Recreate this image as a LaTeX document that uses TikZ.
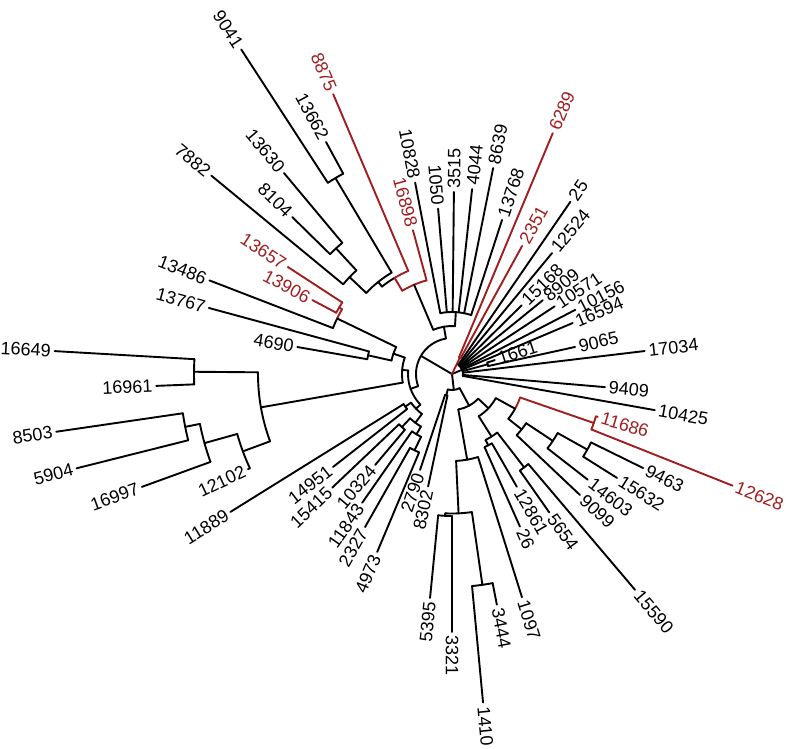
\documentclass[tikz,border=0pt]{standalone}
\usepackage{fontspec}
\setmainfont{Liberation Sans}
\usetikzlibrary{calc}
\definecolor{cladered}{RGB}{160,30,32}

\begin{document}
\begin{tikzpicture}[x=1pt,y=1pt,
 branch/.style={line width=1.9pt,line cap=round,line join=round},
 tiplab/.style={font=\fontsize{18}{20}\selectfont,inner xsep=3pt,inner ysep=0pt}]
 \useasboundingbox (0,0) rectangle (789,-748);
 \coordinate (C) at (452,-374);
 % arcs of the internal nodes: radius / from / to / colour
 \foreach \r/\a/\b/\c in {11/-10.1/55.5/black, 37/12.4/18/black,
   62/72/100.9/black, 48/86.45/113/black, 36/99.7/199.7/black,
   112/120.85/128.7/black, 118/120.75/136.6/black, 228/118.5/123/black,
   141/132.7/140.5/black, 171/129.9/135.5/black,
   44/175.35/224/black, 50/160.8/189.9/black, 62/154.2/167.45/black,
   127.6/154.2/158.9/black, 86/164.8/170.1/black,
   194/179.5/200.3/black, 258/176.7/182.3/black, 223/195.6/205/black,
   257/191.2/200/black, 272/188.3/194.1/black,
   50/214.95/233.05/black, 57/211.9/218/black, 61/226.65/239.45/black,
   73/223.5/229.8/black, 70/235.1/243.8/black, 85/240.4/247.2/black,
   16/254.8/298.4/black, 22/251.6/258/black, 36/280.05/316.75/black,
   87/272.7/287.4/black, 139.5/267.2/278.2/black, 142/264.4/270/black,
   213/275.4/281/black, 50/302.3/331.2/black, 74/296.95/307.7/black,
   80/294/299.9/black, 118/305.1/310.3/black, 72/321.5/331.2/black,
   89/316.6/326.45/black, 121/322.1/330.8/black, 155/327.8/333.8/black,
   18/61.3/67.3/cladered, 97/105.2/120.85/cladered, 112/113/120.85/cladered,
   127.6/149.5/154.2/cladered, 131/146.9/152.1/cladered,
   72/331.2/340.95/cladered, 150/338.3/343.6/cladered}
  \draw[branch,\c] ($(C)+(\a:\r pt)$) arc[start angle=\a,end angle=\b,radius=\r pt];
 % stems of the internal nodes: angle / parent radius / radius / colour
 \foreach \a/\p/\r/\c in {22.7/0/11/black, 149.7/0/36/black, 276.6/0/16/black,
   15.2/11/37/black, 99.7/36/48/black, 199.7/36/44/black, 86.45/48/62/black,
   113/48/97/black, 128.7/112/118/black, 120.75/118/228/black,
   136.6/118/141/black, 132.7/141/171/black, 175.35/44/50/black,
   224/44/50/black, 160.8/50/62/black, 189.9/50/194/black,
   154.2/62/127.6/black, 167.45/62/86/black, 179.5/194/258/black,
   200.3/194/223/black, 195.6/223/257/black, 191.2/257/272/black,
   214.95/50/57/black, 233.05/50/61/black, 226.65/61/73/black,
   239.45/61/70/black, 243.8/70/85/black, 254.8/16/22/black,
   298.4/16/36/black, 280.05/36/87/black, 316.75/36/50/black,
   272.7/87/139.5/black, 267.2/139.5/142/black, 278.2/139.5/213/black,
   302.3/50/74/black, 331.2/50/72/black, 296.95/74/80/black,
   307.7/74/118/black, 321.5/72/89/black, 326.45/89/121/black,
   330.8/121/155/black,
   64.3/0/18/cladered, 120.85/97/112/cladered, 149.5/127.6/131/cladered,
   340.95/72/150/cladered}
  \draw[branch,\c] ($(C)+(\a:\p pt)$) -- ($(C)+(\a:\r pt)$);
 % tips on the right half
 \foreach \a/\p/\r/\t/\c in {6.8/11/194/17034/black, 12.4/37/126/9065/black,
   18/37/45/1661/black, 22.9/11/131/16594/black, 27.5/11/139/10156/black,
   33.4/11/123/10571/black, 39.1/11/117/8909/black, 44.6/11/98/15168/black,
   50.4/11/157/12524/black, 55.5/11/209/25/black,
   61.3/18/146/2351/cladered, 67.3/18/261/6289/cladered,
   72/62/162/13768/black, 78.7/62/210/8639/black, 83.8/62/186/4044/black,
   89.4/62/182/3515/black, -90/142/258/3321/black, -84.6/213/330/1410/black,
   -79/213/235/3444/black, -72.6/87/234/1097/black, -66/80/167/26/black,
   -60.1/80/130/12861/black, -54.9/118/169/5654/black,
   -49.7/118/283/15590/black, -43.4/89/176/9099/black,
   -37.9/121/172/14603/black, -32.2/155/195/15632/black,
   -26.2/155/213/9463/black, -21.7/150/302/12628/cladered,
   -16.4/150/152/11686/cladered, -10.1/11/206/10425/black,
   -4.9/11/153.5/9409/black}
  \draw[branch,\c] ($(C)+(\a:\p pt)$) -- ($(C)+(\a:\r pt)$)
   node[tiplab,text=\c,anchor=west,rotate=\a] (t\t) {\t};
 % tips on the left half
 \foreach \a/\p/\r/\t/\c in {94.8/62/166/1050/black, 100.9/62/195/10828/black,
   105.2/97/149/16898/cladered, 113/112/304/8875/cladered,
   118.5/228/264/13662/black, 123/228/387/9041/black,
   129.9/171/262/13630/black, 135.5/171/224/8104/black,
   140.5/141/312/7882/black, 146.9/131/196/13657/cladered,
   152.1/131/158/13906/cladered, 158.9/127.6/260/13486/black,
   164.8/86/252/13767/black, 170.1/86/157/4690/black,
   176.7/258/398/16649/black, 182.3/258/296/16961/black,
   188.3/272/400/8503/black, 194.1/272/387/5904/black,
   200/257/330/16997/black, 205/223/225/12102/black,
   211.9/57/261/11889/black, 218/57/151/14951/black,
   223.5/73/165/15415/black, 229.8/73/119/10324/black,
   235.1/70/157/11843/black, 240.4/85/176/2327/black,
   247.2/85/193/4973/black, 251.6/22/101/2790/black,
   258/22/115/8302/black, 264.4/142/225/5395/black}
  \draw[branch,\c] ($(C)+(\a:\p pt)$) -- ($(C)+(\a:\r pt)$)
   node[tiplab,text=\c,anchor=east,rotate=\a-180] (t\t) {\t};
\end{tikzpicture}
\end{document}
